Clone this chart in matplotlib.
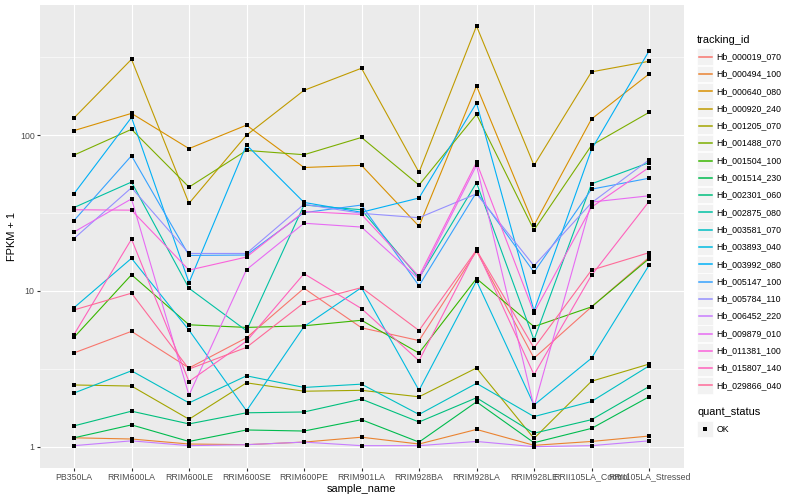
import numpy as np
import matplotlib
matplotlib.use("Agg")
import matplotlib.pyplot as plt
from matplotlib.patches import Rectangle
from matplotlib.lines import Line2D
from matplotlib.ticker import FixedLocator, NullFormatter

plt.rcParams['font.family'] = ['Liberation Sans', 'DejaVu Sans']

samples = ['PB350LA', 'RRIM600LA', 'RRIM600LE', 'RRIM600SE', 'RRIM600PE',
           'RRIM901LA', 'RRIM928BA', 'RRIM928LA', 'RRIM928LE',
           'RRII105LA_Control', 'RRII105LA_Stressed']

tracking_ids = ['Hb_000019_070', 'Hb_000494_100', 'Hb_000640_080', 'Hb_000920_240',
                'Hb_001205_070', 'Hb_001488_070', 'Hb_001504_100', 'Hb_001514_230',
                'Hb_002301_060', 'Hb_002875_080', 'Hb_003581_070', 'Hb_003893_040',
                'Hb_003992_080', 'Hb_005147_100', 'Hb_005784_110', 'Hb_006452_220',
                'Hb_009879_010', 'Hb_011381_100', 'Hb_015807_140', 'Hb_029866_040']

# FPKM + 1
hb_000019_070 = [4.0, 5.5, 3.2, 5.0, 10.4, 5.8, 4.8, 18.0, 3.7, 7.9, 16.4]
hb_000494_100 = [1.14, 1.12, 1.04, 1.03, 1.07, 1.15, 1.04, 1.29, 1.02, 1.08, 1.17]
hb_000640_080 = [107, 138, 82, 116, 62, 64, 26, 207, 26.4, 127, 247]
hb_000920_240 = [129, 307, 36.5, 100, 194, 269, 57.7, 502, 64, 255, 298]
hb_001205_070 = [2.49, 2.45, 1.5, 2.57, 2.27, 2.3, 2.09, 3.2, 1.13, 2.63, 3.39]
hb_001488_070 = [74.5, 109, 46.4, 79.8, 74.9, 96.7, 47.8, 136, 24.6, 86, 140]
hb_001504_100 = [5.03, 12.7, 6.06, 5.83, 5.97, 6.48, 3.99, 12.0, 5.9, 7.9, 16.1]
hb_001514_230 = [1.14, 1.38, 1.08, 1.28, 1.26, 1.49, 1.07, 1.94, 1.06, 1.31, 2.09]
hb_002301_060 = [1.36, 1.69, 1.4, 1.65, 1.67, 2.02, 1.44, 2.06, 1.22, 1.49, 2.43]
hb_002875_080 = [34.3, 50, 10.4, 5.55, 35.6, 33.2, 12.1, 49.5, 4.85, 48.7, 66.6]
hb_003581_070 = [2.21, 3.07, 1.91, 2.85, 2.4, 2.52, 1.61, 2.55, 1.56, 1.95, 3.3]
hb_003893_040 = [7.8, 16.2, 5.6, 1.7, 5.9, 10.5, 2.3, 11.6, 1.85, 3.7, 14.6]
hb_003992_080 = [42.1, 130, 11.3, 86.6, 37, 32, 39.5, 161, 7.44, 81, 347]
hb_005147_100 = [28.3, 73.8, 16.9, 17.0, 31.8, 35.6, 10.8, 43, 13.2, 45, 52.9]
hb_005784_110 = [21.7, 46, 17.4, 17.4, 36, 31.5, 29.5, 42, 14.5, 36.8, 69.3]
hb_006452_220 = [1.015, 1.09, 1.015, 1.03, 1.07, 1.015, 1.015, 1.08, 1.0, 1.015, 1.09]
hb_009879_010 = [23.9, 39, 2.14, 13.7, 27.2, 25.7, 11.9, 64, 1.8, 37.2, 40.8]
hb_011381_100 = [33.2, 33, 13.6, 16.5, 32.3, 31, 12.4, 67, 7.25, 34.5, 62]
hb_015807_140 = [5.25, 21.5, 2.62, 4.76, 12.9, 7.7, 3.56, 18.5, 2.9, 12.6, 37.5]
hb_029866_040 = [7.55, 9.67, 3.15, 4.34, 8.4, 10.5, 5.57, 18.3, 4.3, 13.6, 17.6]

series = [hb_000019_070, hb_000494_100, hb_000640_080, hb_000920_240,
          hb_001205_070, hb_001488_070, hb_001504_100, hb_001514_230,
          hb_002301_060, hb_002875_080, hb_003581_070, hb_003893_040,
          hb_003992_080, hb_005147_100, hb_005784_110, hb_006452_220,
          hb_009879_010, hb_011381_100, hb_015807_140, hb_029866_040]


def hcl_to_hex(h, c=100.0, l=65.0):
    # polar Luv -> sRGB, same as R's hcl()
    xn, yn, zn = 95.047, 100.0, 108.883
    un = 4 * xn / (xn + 15 * yn + 3 * zn)
    vn = 9 * yn / (xn + 15 * yn + 3 * zn)
    u = c * np.cos(np.radians(h))
    v = c * np.sin(np.radians(h))
    y = yn * ((l + 16) / 116) ** 3
    up = u / (13 * l) + un
    vp = v / (13 * l) + vn
    x = 9 * y * up / (4 * vp)
    z = -x / 3 - 5 * y + 3 * y / vp
    m = np.array([[3.240479, -1.537150, -0.498535],
                  [-0.969256, 1.875992, 0.041556],
                  [0.055648, -0.204043, 1.057311]])
    rgb = m @ (np.array([x, y, z]) / 100)
    out = []
    for ch in rgb:
        ch = 12.92 * ch if ch <= 0.0031308 else 1.055 * ch ** (1 / 2.4) - 0.055
        out.append(min(max(ch, 0), 1))
    return matplotlib.colors.to_hex(out)


n = len(tracking_ids)
hues = np.linspace(15, 375, n + 1)[:n]
colors = [hcl_to_hex(h % 360) for h in hues]

W, H = 800, 500
fig = plt.figure(figsize=(8, 5), dpi=100)
ax = fig.add_axes([39.5 / W, 1 - 467.7 / H, 644 / W, 462.7 / H])
ax.set_facecolor('#EBEBEB')

x = np.arange(len(samples))
for vals, col in zip(series, colors):
    ax.plot(x, vals, color=col, lw=0.8, zorder=2)
for vals in series:
    ax.plot(x, vals, 's', color='black', ms=2.8, mew=0, zorder=3)

ax.set_yscale('log')
allv = np.log10(np.concatenate([np.array(s) for s in series]))
lo, hi = allv.min(), allv.max()
pad = 0.05 * (hi - lo)
ax.set_ylim(10 ** (lo - pad), 10 ** (hi + pad))
ax.set_xlim(-0.6, len(samples) - 0.4)

ax.yaxis.set_major_locator(FixedLocator([1, 10, 100]))
ax.yaxis.set_minor_locator(FixedLocator([10 ** 0.5, 10 ** 1.5, 10 ** 2.5]))
ax.yaxis.set_minor_formatter(NullFormatter())
ax.set_yticklabels(['1', '10', '100'])
ax.set_xticks(x)
ax.set_xticklabels(samples)

ax.grid(True, which='major', color='white', lw=0.8)
ax.grid(True, which='minor', axis='y', color='white', lw=0.4)
ax.set_axisbelow(True)
for sp in ax.spines.values():
    sp.set_visible(False)
ax.tick_params(which='major', length=2, width=0.8, color='#333333',
               labelcolor='#4D4D4D', labelsize=6.3, pad=1.5)
ax.tick_params(which='minor', length=0)

ax.set_xlabel('sample_name', fontsize=7.9, labelpad=1.5)
ax.set_ylabel('FPKM + 1', fontsize=7.9, labelpad=2)


def fx(px):
    return px / W


def fy(py):
    return 1 - py / H


# legend: tracking_id
fig.text(fx(697), fy(40), 'tracking_id', fontsize=7.9, va='center', ha='left')
step = 17.3
for i, (tid, col) in enumerate(zip(tracking_ids, colors)):
    cy = 56.7 + i * step
    fig.add_artist(Rectangle((fx(697), fy(cy + 8.3)), 16 / W, 16.6 / H,
                             transform=fig.transFigure, facecolor='#F2F2F2',
                             edgecolor='white', lw=0.5, zorder=1))
    fig.add_artist(Line2D([fx(698.5), fx(711.5)], [fy(cy), fy(cy)],
                          transform=fig.transFigure, color=col, lw=1.1, zorder=2))
    fig.text(fx(716.5), fy(cy), tid, fontsize=6.3, va='center', ha='left')

# legend: quant_status
fig.text(fx(697), fy(411.7), 'quant_status', fontsize=7.9, va='center', ha='left')
fig.add_artist(Rectangle((fx(697), fy(429 + 8.3)), 16 / W, 16.6 / H,
                         transform=fig.transFigure, facecolor='#F2F2F2',
                         edgecolor='white', lw=0.5, zorder=1))
fig.add_artist(Line2D([fx(705)], [fy(429)], transform=fig.transFigure,
                      marker='s', color='black', ms=2.8, mew=0, ls='none', zorder=2))
fig.text(fx(716.5), fy(429), 'OK', fontsize=6.3, va='center', ha='left')

fig.savefig('out.png', dpi=100, facecolor='white')
